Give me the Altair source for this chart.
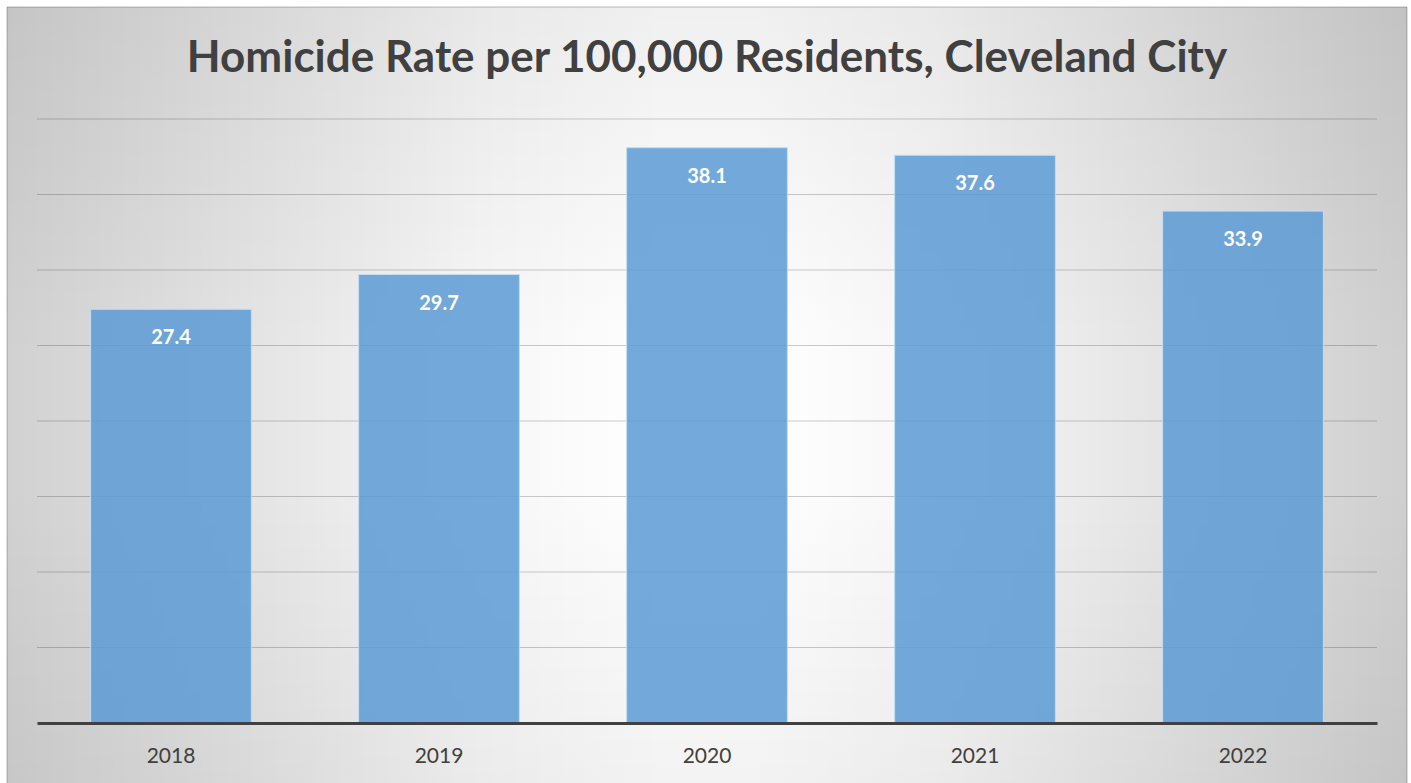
import altair as alt
import pandas as pd

years = ["2018", "2019", "2020", "2021", "2022"]
rates = [27.4, 29.7, 38.1, 37.6, 33.9]
grid_values = [5, 10, 15, 20, 25, 30, 35, 40]
title_text = "Homicide Rate per 100,000 Residents, Cleveland City"

df = pd.DataFrame({"year": years, "rate": rates})
grid_df = pd.DataFrame({"v": grid_values})
bg_df = pd.DataFrame({"k": [0]})

FONT = "Lato"
TEXT_COLOR = "#404040"

y_scale = alt.Scale(domain=[0, 40], nice=False, zero=True)
x_enc = alt.X(
    "year:N",
    sort=years,
    scale=alt.Scale(paddingInner=0.4, paddingOuter=0.2),
    axis=alt.Axis(
        title=None, labelAngle=0, ticks=False, tickSize=0,
        labelFontSize=21, labelColor=TEXT_COLOR, labelFont=FONT,
        labelBaseline="alphabetic", labelPadding=39,
        domainColor=TEXT_COLOR, domainWidth=3, grid=False, zindex=1,
    ),
)

frame_pos = dict(x=alt.value(-30), x2=alt.value(1370), y=alt.value(-112), y2=alt.value(680))


def shade(a):
    return f"rgba(0,0,0,{a})"


bg = alt.Chart(bg_df).mark_rect(fill="white", stroke="#bdbdbd", strokeWidth=1).encode(**frame_pos)

shade_h = alt.Chart(bg_df).mark_rect(
    fill=alt.LinearGradient(
        gradient="linear", x1=0, y1=0, x2=1, y2=0,
        stops=[
            alt.GradientStop(color=shade(0.18), offset=0),
            alt.GradientStop(color=shade(0.10), offset=0.18),
            alt.GradientStop(color=shade(0.03), offset=0.34),
            alt.GradientStop(color=shade(0.0), offset=0.47),
            alt.GradientStop(color=shade(0.0), offset=0.53),
            alt.GradientStop(color=shade(0.03), offset=0.66),
            alt.GradientStop(color=shade(0.10), offset=0.82),
            alt.GradientStop(color=shade(0.19), offset=1),
        ],
    ),
).encode(**frame_pos)

shade_v = alt.Chart(bg_df).mark_rect(
    fill=alt.LinearGradient(
        gradient="linear", x1=0, y1=0, x2=0, y2=1,
        stops=[
            alt.GradientStop(color=shade(0.06), offset=0),
            alt.GradientStop(color=shade(0.0), offset=0.45),
            alt.GradientStop(color=shade(0.0), offset=0.6),
            alt.GradientStop(color=shade(0.05), offset=1),
        ],
    ),
).encode(**frame_pos)

grid = alt.Chart(grid_df).mark_rule(color="black", opacity=0.2, strokeWidth=1).encode(
    y=alt.Y("v:Q", scale=y_scale, axis=None)
)

bars = alt.Chart(df).mark_bar(
    color="#5b9bd5", fillOpacity=0.85, stroke="#c6dcf1", strokeWidth=1
).encode(x=x_enc, y=alt.Y("rate:Q", scale=y_scale, axis=None))

labels = alt.Chart(df).mark_text(
    font=FONT, fontSize=20, fontWeight="bold", color="white",
    baseline="alphabetic", dy=35,
).encode(
    x=alt.X("year:N", sort=years),
    y=alt.Y("rate:Q", scale=y_scale, axis=None),
    text=alt.Text("rate:Q", format=".1f"),
)

chart = alt.layer(bg, shade_h, shade_v, grid, bars, labels).properties(
    width=1340,
    height=604,
    autosize=alt.AutoSizeParams(type="none"),
    padding={"left": 37, "top": 119, "right": 34, "bottom": 60},
    title=alt.TitleParams(
        title_text, font=FONT, fontSize=44, fontWeight="bold", color=TEXT_COLOR,
        anchor="middle", baseline="alphabetic", offset=-109, zindex=1,
    ),
).configure_view(stroke=None).configure(background="white")

chart.save("out.html", embed_options={"renderer": "svg", "actions": False})
